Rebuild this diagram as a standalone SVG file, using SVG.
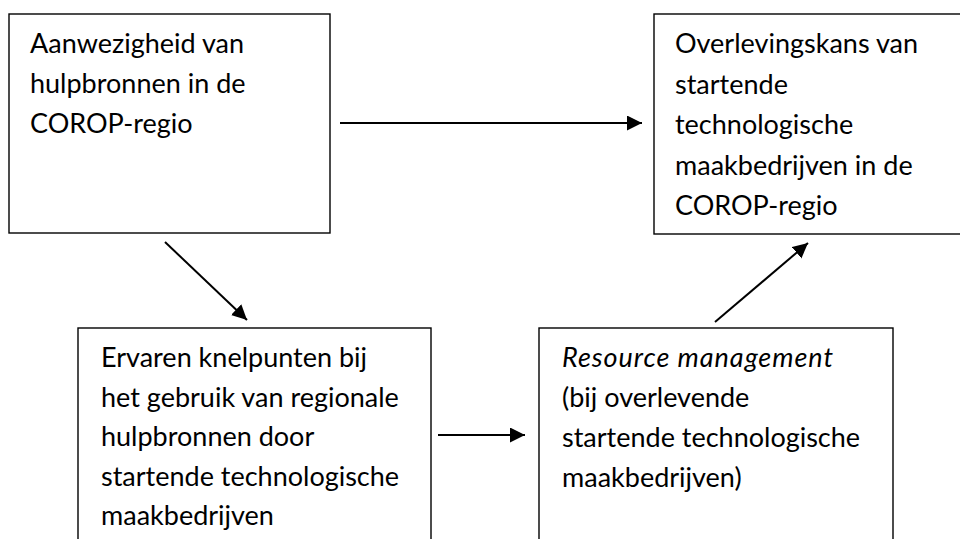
<svg xmlns="http://www.w3.org/2000/svg" width="960" height="539" viewBox="0 0 960 539">
  <style>
    .box { fill: #ffffff; stroke: #000000; stroke-width: 1.4; }
    .label { font-family: "Lato", "Liberation Sans", sans-serif; font-size: 27px; fill: #000000; }
    .em { font-style: italic; }
    .link { stroke: #000000; stroke-width: 2; fill: none; marker-end: url(#head); }
  </style>
  <defs>
    <marker id="head" markerUnits="userSpaceOnUse" markerWidth="16" markerHeight="16" refX="15" refY="7.5" orient="auto">
      <path d="M0,0 L15,7.5 L0,15 Z" fill="#000000"/>
    </marker>
  </defs>
  <rect width="960" height="539" fill="#ffffff"/>

  <g id="node-hulpbronnen">
    <rect class="box" x="9" y="14" width="321" height="219"/>
    <text class="label">
      <tspan x="30" y="53">Aanwezigheid van</tspan>
      <tspan x="30" y="93">hulpbronnen in de</tspan>
      <tspan x="30" y="133">COROP-regio</tspan>
    </text>
  </g>

  <g id="node-overlevingskans">
    <rect class="box" x="654" y="14" width="320" height="220"/>
    <text class="label">
      <tspan x="675" y="53">Overlevingskans van</tspan>
      <tspan x="675" y="93.5">startende</tspan>
      <tspan x="675" y="134">technologische</tspan>
      <tspan x="675" y="174.5">maakbedrijven in de</tspan>
      <tspan x="675" y="215">COROP-regio</tspan>
    </text>
  </g>

  <g id="node-knelpunten">
    <rect class="box" x="78" y="328" width="353" height="230"/>
    <text class="label">
      <tspan x="101" y="367">Ervaren knelpunten bij</tspan>
      <tspan x="101" y="406.5">het gebruik van regionale</tspan>
      <tspan x="101" y="446">hulpbronnen door</tspan>
      <tspan x="101" y="485.5">startende technologische</tspan>
      <tspan x="101" y="525">maakbedrijven</tspan>
    </text>
  </g>

  <g id="node-resource-management">
    <rect class="box" x="539" y="328" width="354" height="230"/>
    <text class="label">
      <tspan x="562" y="367" class="em" textLength="271" lengthAdjust="spacing">Resource management</tspan>
      <tspan x="562" y="407">(bij overlevende</tspan>
      <tspan x="562" y="447">startende technologische</tspan>
      <tspan x="562" y="487">maakbedrijven)</tspan>
    </text>
  </g>

  <g id="connectors">
    <line class="link" x1="340" y1="123" x2="642" y2="123"/>
    <line class="link" x1="165" y1="242" x2="247" y2="320"/>
    <line class="link" x1="438" y1="435" x2="525" y2="435"/>
    <line class="link" x1="715" y1="322" x2="808" y2="243"/>
  </g>
</svg>
